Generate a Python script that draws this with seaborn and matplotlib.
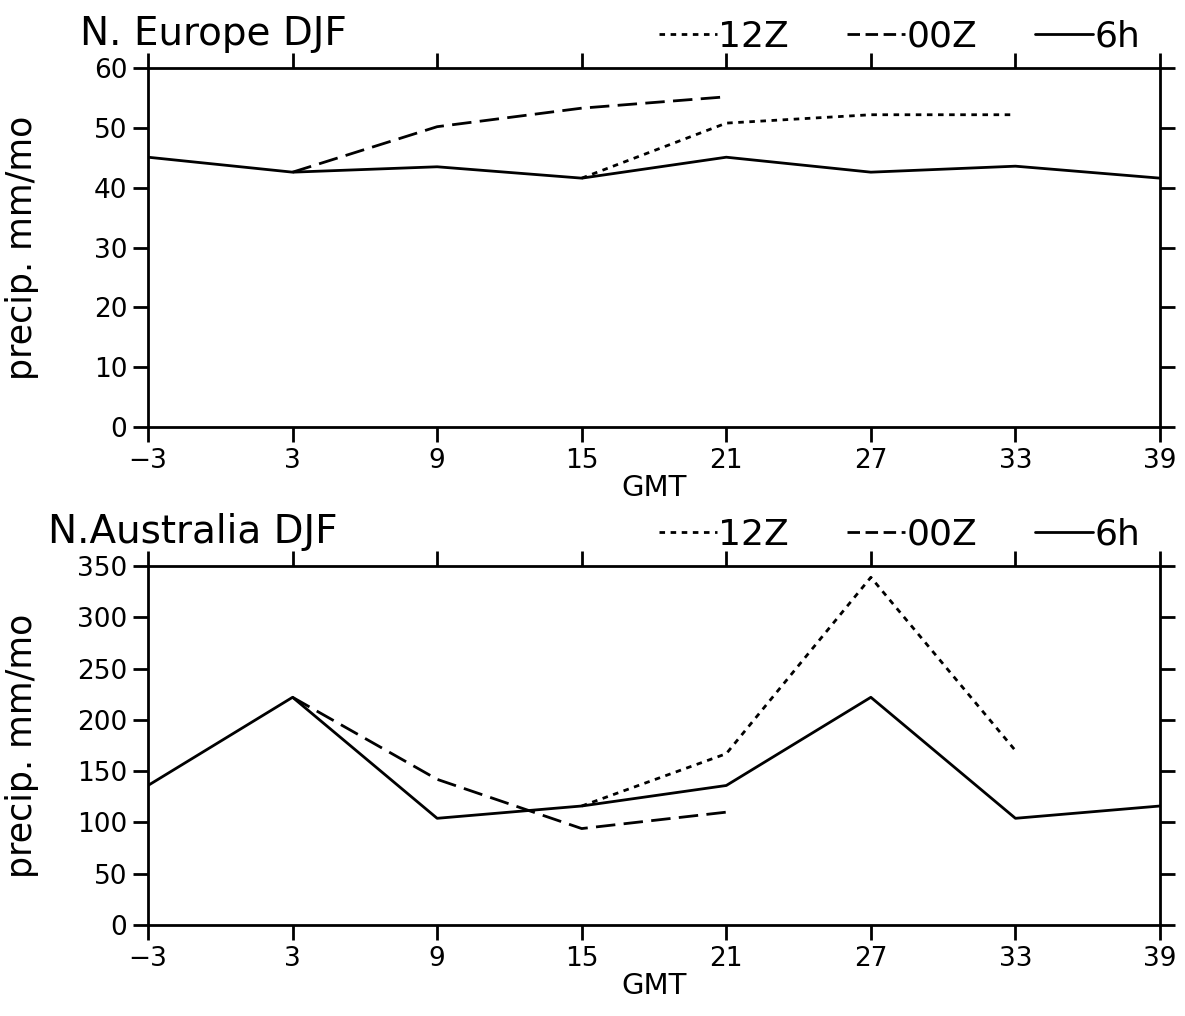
import matplotlib
matplotlib.use("Agg")
import matplotlib.pyplot as plt
import seaborn as sns
import pandas as pd
from matplotlib.lines import Line2D

# ---- data ----
gmt = [-3, 3, 9, 15, 21, 27, 33, 39]
xticks = [-3, 3, 9, 15, 21, 27, 33, 39]

eu_6h = [45.1, 42.6, 43.5, 41.6, 45.1, 42.6, 43.6, 41.6]
eu_00z_x = [3, 9, 15, 21]
eu_00z = [42.6, 50.2, 53.3, 55.2]
eu_12z_x = [15, 21, 27, 33]
eu_12z = [41.6, 50.8, 52.2, 52.2]

au_6h = [136, 222, 104, 116, 136, 222, 104, 116]
au_00z_x = [3, 9, 15, 21]
au_00z = [222, 142, 94, 110]
au_12z_x = [15, 21, 27, 33]
au_12z = [116, 167, 339, 170]

titles = ["N. Europe DJF", "N.Australia DJF"]
ylims = [(0, 60), (0, 350)]
yticks = [list(range(0, 61, 10)), list(range(0, 351, 50))]
series_order = ["12Z", "00Z", "6h"]


def make_df(x6, y6, x0, y0, x12, y12):
    rows = []
    for x, y in zip(x12, y12):
        rows.append({"GMT": x, "precip": y, "series": "12Z"})
    for x, y in zip(x0, y0):
        rows.append({"GMT": x, "precip": y, "series": "00Z"})
    for x, y in zip(x6, y6):
        rows.append({"GMT": x, "precip": y, "series": "6h"})
    return pd.DataFrame(rows)


dfs = [
    make_df(gmt, eu_6h, eu_00z_x, eu_00z, eu_12z_x, eu_12z),
    make_df(gmt, au_6h, au_00z_x, au_00z, au_12z_x, au_12z),
]

sns.set_style("ticks")
plt.rcParams["font.family"] = ["DejaVu Sans"]
plt.rcParams["text.color"] = "black"
plt.rcParams["axes.labelcolor"] = "black"

fig = plt.figure(figsize=(11.85, 10.16), dpi=100)
positions = [
    [0.1249, 0.5797, 0.854, 0.3533],
    [0.1249, 0.0896, 0.854, 0.3533],
]
title_x = [-0.067, -0.099]

dashes = {"12Z": (2, 2), "00Z": (7, 3), "6h": ""}
lw = 2.0

for i, df in enumerate(dfs):
    ax = fig.add_axes(positions[i])
    sns.lineplot(data=df, x="GMT", y="precip", style="series",
                 style_order=series_order, dashes=dashes, color="black",
                 linewidth=lw, ax=ax, legend=False, sort=False, estimator=None)
    ax.set_xlim(-3, 39)
    ax.set_ylim(*ylims[i])
    ax.set_xticks(xticks)
    ax.set_xticklabels([str(v).replace("-", "\u2212") for v in xticks])
    ax.set_yticks(yticks[i])
    for sp in ax.spines.values():
        sp.set_visible(True)
        sp.set_linewidth(2.0)
        sp.set_color("black")
    ax.tick_params(axis="both", which="both", direction="out", length=11,
                   width=2.0, labelsize=19, colors="black",
                   top=True, right=True, labeltop=False, labelright=False,
                   pad=4)
    ax.set_xlabel("GMT", fontsize=21, labelpad=0)
    ax.set_ylabel("precip. mm/mo", fontsize=25)
    ax.yaxis.set_label_coords(-0.108, 0.5)
    ax.text(title_x[i], 1.065, titles[i], transform=ax.transAxes,
            fontsize=28, ha="left", va="baseline")

    handles = [Line2D([0], [0], color="black", lw=lw) for s in series_order]
    handles[0].set_dashes((2, 2))
    handles[1].set_dashes((4.5, 2))
    leg = ax.legend(handles, series_order, ncol=3, loc="lower right",
                    bbox_to_anchor=(0.995, 1.0), frameon=False,
                    handlelength=1.6, handletextpad=0.05, columnspacing=1.6,
                    fontsize=26, borderaxespad=0.0)

fig.savefig("out.png", dpi=100, facecolor="white")
